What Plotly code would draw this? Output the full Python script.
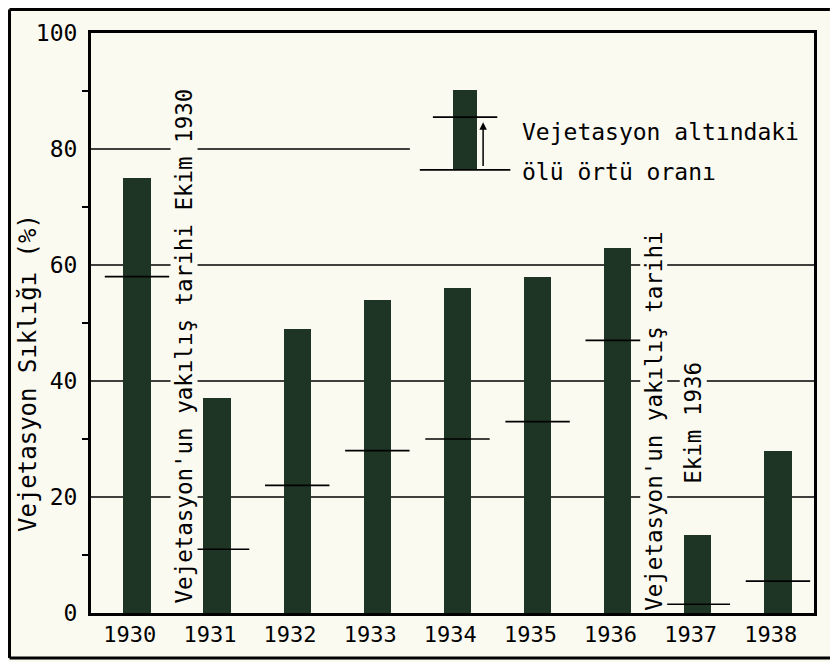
import plotly.graph_objects as go

# ---- data ----
years = ["1930", "1931", "1932", "1933", "1934", "1935", "1936", "1937", "1938"]
vegetation = [75, 37, 49, 54, 56, 58, 63, 13.5, 28]          # Vejetasyon sıklığı (%)
dead_cover = [58, 11, 22, 28, 30, 33, 47, 1.5, 5.5]         # ölü örtü oranı (%)
grid_levels = [20, 40, 60]
y_ticks = [0, 20, 40, 60, 80, 100]
y_minor = [10, 30, 50, 70, 90]
legend_bar = [76.4, 90.2]      # base, top of the legend sample bar
legend_dead = [85.5]           # dead cover mark of the legend sample

BG = "#fbfaf1"
BAR = "#1e3526"
FONT = "DejaVu Sans Mono"

xs = list(range(len(years)))

fig = go.Figure()

# main bars
fig.add_trace(go.Bar(x=xs, y=vegetation, width=0.34, marker=dict(color=BAR, line=dict(width=0)),
                     showlegend=False))
# dead cover marks
fig.add_trace(go.Scatter(x=xs, y=dead_cover, mode="markers",
                         marker=dict(symbol="line-ew", size=46, color="black",
                                     line=dict(width=1.6, color="black")),
                         showlegend=False))

# legend sample
lx = 4.095
fig.add_trace(go.Bar(x=[lx], y=[legend_bar[1] - legend_bar[0]], base=[legend_bar[0]], width=0.3,
                     marker=dict(color=BAR, line=dict(width=0)), showlegend=False))
fig.add_trace(go.Scatter(x=[lx], y=legend_dead, mode="markers",
                         marker=dict(symbol="line-ew", size=46, color="black",
                                     line=dict(width=1.6, color="black")),
                         showlegend=False))

shapes = []
# gridlines
for g in grid_levels:
    shapes.append(dict(type="line", xref="paper", yref="y", x0=0, x1=1, y0=g, y1=g,
                       line=dict(color="black", width=1.6), layer="below"))
shapes.append(dict(type="line", xref="paper", yref="y", x0=0, x1=0.441, y0=80, y1=80,
                   line=dict(color="black", width=1.6), layer="below"))
# legend baseline
shapes.append(dict(type="line", xref="x", yref="y", x0=3.53, x1=4.66, y0=legend_bar[0], y1=legend_bar[0],
                   line=dict(color="black", width=1.6)))
# outer scan frame (top, left, bottom)
shapes.append(dict(type="line", xref="paper", yref="paper", x0=-0.1127, x1=1.022, y0=1.0405, y1=1.0405,
                   line=dict(color="black", width=3)))
shapes.append(dict(type="line", xref="paper", yref="paper", x0=-0.1127, x1=-0.1127, y0=1.0405, y1=-0.0776,
                   line=dict(color="black", width=3)))
shapes.append(dict(type="line", xref="paper", yref="paper", x0=-0.1127, x1=1.03, y0=-0.0776, y1=-0.0776,
                   line=dict(color="black", width=3)))

annotations = [
    dict(text="Vejetasyon Sıklığı (%)", xref="paper", yref="paper", x=-0.087, y=0.414,
         xanchor="center", yanchor="middle",
         textangle=-90, showarrow=False, font=dict(family=FONT, size=24, color="black")),
    dict(text="Vejetasyon'un yakılış tarihi Ekim 1930", xref="x", yref="y", x=0.59, y=46.0,
         xanchor="center", yanchor="middle",
         textangle=-90, showarrow=False, bgcolor=BG, borderpad=0,
         font=dict(family=FONT, size=22.5, color="black")),
    dict(text="Vejetasyon'un yakılış tarihi", xref="x", yref="y", x=6.45, y=33.1,
         xanchor="center", yanchor="middle",
         textangle=-90, showarrow=False, bgcolor=BG, borderpad=0,
         font=dict(family=FONT, size=22.5, color="black")),
    dict(text="Ekim 1936", xref="x", yref="y", x=6.94, y=32.8,
         xanchor="center", yanchor="middle",
         textangle=-90, showarrow=False, bgcolor=BG, borderpad=0,
         font=dict(family=FONT, size=22.5, color="black")),
    dict(text="Vejetasyon altındaki", xref="x", yref="y", x=4.78, y=82.9, xanchor="left",
         showarrow=False, font=dict(family=FONT, size=23, color="black")),
    dict(text="ölü örtü oranı", xref="x", yref="y", x=4.78, y=76.0, xanchor="left",
         showarrow=False, font=dict(family=FONT, size=23, color="black")),
    # legend arrow
    dict(x=4.32, y=84.6, ax=4.32, ay=76.8, xref="x", yref="y", axref="x", ayref="y",
         text="", showarrow=True, arrowhead=2, arrowsize=1, arrowwidth=1.5, arrowcolor="black"),
]

# page has an 8px body margin: figure is shrunk so the visible layout lines up
fig.update_layout(
    width=830, height=654,
    margin=dict(l=83, r=24, t=25, b=49),
    paper_bgcolor=BG, plot_bgcolor=BG,
    shapes=shapes, annotations=annotations,
    bargap=0, showlegend=False,
    font=dict(family=FONT, color="black"),
)
fig.update_xaxes(range=[-0.574, 8.45], tickmode="array",
                 tickvals=[i - 0.09 for i in xs], ticktext=years,
                 showgrid=False, zeroline=False, showline=True, linecolor="black", linewidth=3,
                 mirror=True, ticks="", tickfont=dict(family=FONT, size=22, color="black"))
fig.update_yaxes(range=[0, 100], tickmode="array", tickvals=y_ticks,
                 showgrid=False, zeroline=False, showline=True, linecolor="black", linewidth=3,
                 mirror=True, ticks="", ticklabelstandoff=6,
                 tickfont=dict(family=FONT, size=23, color="black"),
                 minor=dict(tickmode="array", tickvals=y_minor, ticks="outside", ticklen=6,
                            tickwidth=2, tickcolor="black"))

fig.write_html("out.html")
